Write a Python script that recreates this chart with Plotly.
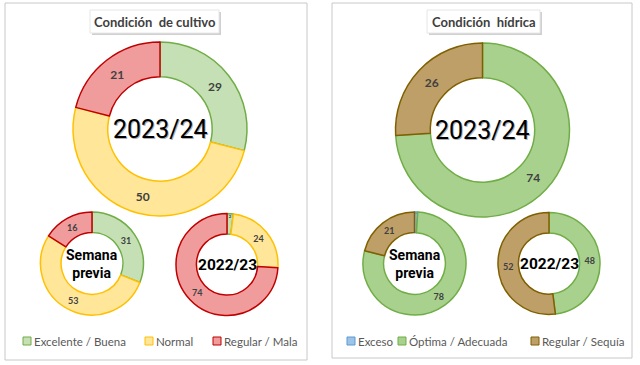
import plotly.graph_objects as go

W, H = 640, 365

# ---- data ----
cult_labels = ["Excelente / Buena", "Normal", "Regular / Mala"]
cult_2023_24 = [29, 50, 21]
cult_semana_previa = [31, 53, 16]
cult_2022_23 = [2, 24, 74]

hid_labels = ["Exceso", "Óptima / Adecuada", "Regular / Sequía"]
hid_2023_24 = [0, 74, 26]
hid_semana_previa = [1, 78, 21]
hid_2022_23 = [0, 48, 52]

panel_titles = ["Condición  de cultivo", "Condición  hídrica"]
center_texts = ["2023/24", "Semana<br>previa", "2022/23"]

# ---- styles ----
cult_fill = ["#c5e0b4", "#ffe699", "#f09c9c"]
cult_line = ["#70ad47", "#ffc000", "#c00000"]
hid_fill = ["#9dc3e6", "#a9d18e", "#bf9f68"]
hid_line = ["#5b9bd5", "#70ad47", "#7f6000"]

FONT = "Lato, 'Open Sans', sans-serif"


def px_domain(cx, cy, r):
    return dict(x=[(cx - r) / W, (cx + r) / W], y=[1 - (cy + r) / H, 1 - (cy - r) / H])


fig = go.Figure()


def add_donut(values, labels, fill, line, cx, cy, r, fsize):
    txt = [str(v) if v > 0 else "" for v in values]
    fig.add_trace(go.Pie(
        values=values, labels=labels, text=txt, textinfo="text",
        textposition="inside", insidetextorientation="horizontal",
        sort=False, direction="clockwise", rotation=0, hole=0.6,
        marker=dict(colors=fill, line=dict(color=line, width=1.5)),
        textfont=dict(family=FONT, size=fsize, color="#404040", weight="bold"),
        domain=px_domain(cx, cy, r), showlegend=False, hoverinfo="label+value",
    ))


# left panel
add_donut(cult_2023_24, cult_labels, cult_fill, cult_line, 160, 129, 87, 12)
add_donut(cult_semana_previa, cult_labels, cult_fill, cult_line, 92, 263.5, 51.5, 9)
add_donut(cult_2022_23, cult_labels, cult_fill, cult_line, 227, 264.5, 51, 9)
# right panel
add_donut(hid_2023_24, hid_labels, hid_fill, hid_line, 482.5, 130, 87, 12)
add_donut(hid_semana_previa, hid_labels, hid_fill, hid_line, 414.5, 263.5, 51.5, 9)
add_donut(hid_2022_23, hid_labels, hid_fill, hid_line, 549, 263.5, 51, 9)

shapes = []
annots = []


def rect(x0, y0, x1, y1, **kw):
    shapes.append(dict(type="rect", xref="paper", yref="paper",
                       x0=x0 / W, x1=x1 / W, y0=1 - y1 / H, y1=1 - y0 / H, **kw))


def text(x, y, s, size, color="#000000", bold=False, xanchor="center", family=FONT):
    annots.append(dict(x=x / W, y=1 - y / H, xref="paper", yref="paper", text=s,
                       showarrow=False, xanchor=xanchor, yanchor="middle",
                       font=dict(family=family, size=size, color=color,
                                 weight="bold" if bold else "normal")))


# panel borders
rect(5, 3, 307, 360, line=dict(color="#c8c8c8", width=1), fillcolor="rgba(0,0,0,0)")
rect(332, 3, 632, 358, line=dict(color="#c8c8c8", width=1), fillcolor="rgba(0,0,0,0)")

# title boxes with shadow
for (x0, x1), t in zip([(90, 219), (427, 540)], panel_titles):
    rect(x0 + 2, 12, x1 + 2, 35, line=dict(width=0), fillcolor="#d0d0d0")
    rect(x0, 10, x1, 33, line=dict(color="#e6e6e6", width=1), fillcolor="#ffffff")
    text((x0 + x1) / 2, 21.5, t, 13, color="#404040", bold=True)

# center texts
CFONT = "Roboto, 'DejaVu Sans', sans-serif"
for cx, cy in [(160, 129), (482.5, 130)]:
    text(cx + 1, cy + 1, center_texts[0], 25, color="#b0b0b0", family=CFONT)
    text(cx, cy, center_texts[0], 25, color="#000000", family=CFONT)
for cx, cy in [(92, 263.5), (414.5, 263.5)]:
    text(cx, cy, center_texts[1], 14, color="#000000", bold=True, family=CFONT)
for cx, cy in [(227, 264.5), (549, 263.5)]:
    text(cx, cy, center_texts[2], 15.5, color="#000000", bold=True, family=CFONT)

# legends
LY = 341
for labels, fill, line, xs in [
    (cult_labels, cult_fill, cult_line, [23, 145, 213]),
    (hid_labels, hid_fill, hid_line, [347, 398, 531]),
]:
    for lab, fc, lc, x in zip(labels, fill, line, xs):
        rect(x, LY - 4, x + 8, LY + 4, line=dict(color=lc, width=1), fillcolor=fc)
        text(x + 9, LY, lab, 11.5, color="#595959", xanchor="left")

fig.update_layout(
    width=W, height=H, margin=dict(l=0, r=0, t=0, b=0),
    paper_bgcolor="#ffffff", plot_bgcolor="#ffffff",
    shapes=shapes, annotations=annots, showlegend=False,
)

fig.write_html("out.html", config={"displayModeBar": False},
               post_script="document.body.style.margin='0';")
